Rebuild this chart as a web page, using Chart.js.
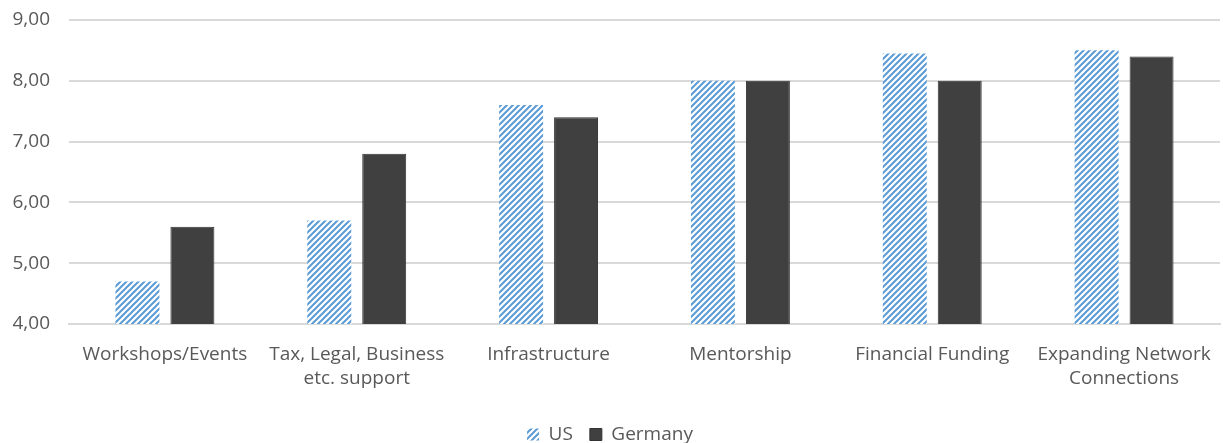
<!DOCTYPE html>
<html>
<head>
    <meta charset="UTF-8">
    <title>Support ratings</title>
    <style>
        html, body { margin: 0; padding: 0; background: #ffffff; }
        .chart-container { width: 1223px; height: 443px; }
    </style>
    <script src="https://cdn.jsdelivr.net/npm/chart.js"></script>
</head>
<body>
<div class="chart-container">
    <canvas id="myChart" width="1223" height="443"></canvas>
</div>
<script>
    const categories = [
        'Workshops/Events',
        ['Tax, Legal, Business', 'etc. support'],
        'Infrastructure',
        'Mentorship',
        'Financial Funding',
        ['Expanding Network', 'Connections']
    ];
    const usValues = [4.70, 5.70, 7.60, 8.00, 8.45, 8.50];
    const germanyValues = [5.60, 6.80, 7.40, 8.00, 8.00, 8.40];
    const yTicks = [4, 5, 6, 7, 8, 9];

    // diagonal blue stripes for the US bars
    function makeStripes() {
        const size = 6;
        const c = document.createElement('canvas');
        c.width = size;
        c.height = size;
        const g = c.getContext('2d');
        g.fillStyle = '#ffffff';
        g.fillRect(0, 0, size, size);
        g.strokeStyle = '#5b9bd5';
        g.lineWidth = 2;
        g.beginPath();
        g.moveTo(-1, size + 1); g.lineTo(size + 1, -1);
        g.moveTo(-1, 1); g.lineTo(1, -1);
        g.moveTo(size - 1, size + 1); g.lineTo(size + 1, size - 1);
        g.stroke();
        return g.createPattern(c, 'repeat');
    }

    const stripes = makeStripes();
    const ctx = document.getElementById('myChart').getContext('2d');
    const textFont = { family: 'Open Sans', size: 19, lineHeight: 1.3 };

    new Chart(ctx, {
        type: 'bar',
        data: {
            labels: categories,
            datasets: [{
                label: 'US',
                data: usValues,
                backgroundColor: stripes,
                borderWidth: 0,
                categoryPercentage: 0.573,
                barPercentage: 0.8
            }, {
                label: 'Germany',
                data: germanyValues,
                backgroundColor: '#404040',
                borderColor: '#333333',
                borderWidth: 1,
                categoryPercentage: 0.573,
                barPercentage: 0.8
            }]
        },
        options: {
            responsive: false,
            animation: false,
            layout: { padding: { left: 0, right: 3, top: 0, bottom: -11 } },
            plugins: {
                legend: {
                    position: 'bottom',
                    labels: {
                        boxWidth: 12,
                        boxHeight: 12,
                        padding: 17,
                        color: '#595959',
                        font: { family: 'Open Sans', size: 19, lineHeight: 1 }
                    }
                },
                tooltip: { enabled: false }
            },
            scales: {
                x: {
                    grid: { display: false },
                    border: { display: true, color: '#d9d9d9', width: 2 },
                    afterFit: axis => { axis.height = 84; },
                    ticks: {
                        color: '#595959',
                        maxRotation: 0,
                        autoSkip: false,
                        padding: 10,
                        font: textFont
                    }
                },
                y: {
                    min: 4,
                    max: 9,
                    afterBuildTicks: axis => {
                        axis.ticks = yTicks.map(v => ({ value: v }));
                    },
                    afterFit: axis => { axis.width = 69; },
                    grid: { color: '#d9d9d9', lineWidth: 2, drawTicks: false },
                    border: { display: false },
                    ticks: {
                        color: '#595959',
                        padding: 19,
                        font: { family: 'Open Sans', size: 19, lineHeight: 0.1 },
                        callback: value => value.toFixed(2).replace('.', ',')
                    }
                }
            }
        }
    });
</script>
</body>
</html>
